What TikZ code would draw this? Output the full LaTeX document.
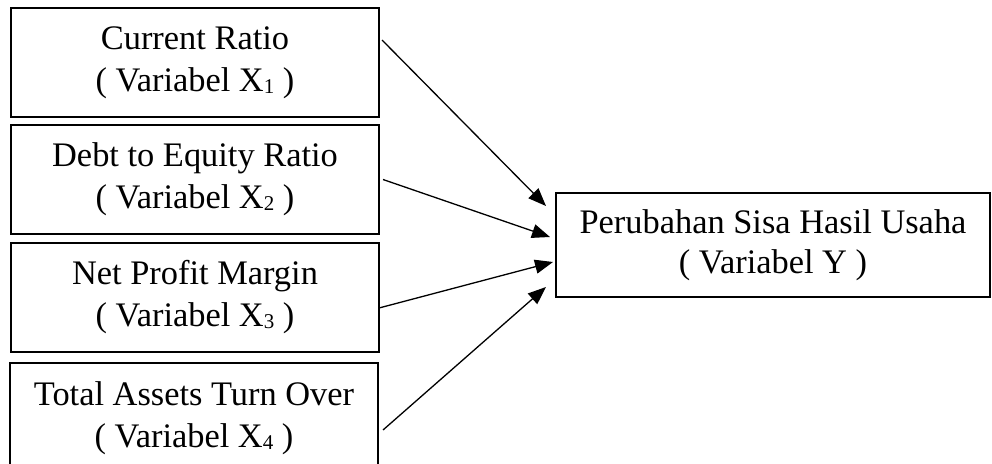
\documentclass[tikz,border=0pt]{standalone}
\usepackage{fontspec}
\setmainfont{Liberation Serif}
\usetikzlibrary{arrows.meta,calc}
\newcommand{\lowsub}[1]{{\fontsize{21}{21}\selectfont\raisebox{-2pt}{#1}}}
\tikzset{
  varbox/.style={draw, line width=2pt, minimum width=368pt, minimum height=109pt,
    inner sep=0pt, align=center, font=\fontsize{34.4}{42}\selectfont},
  ybox/.style={draw, line width=2pt, minimum width=434pt, minimum height=104pt,
    inner sep=0pt, align=center, font=\fontsize{34.4}{40}\selectfont},
  conn/.style={line width=1.3pt, -{Triangle[length=18pt,width=14pt]}}
}
\begin{document}
\begin{tikzpicture}[x=1pt,y=-1pt]
\useasboundingbox (0,0) rectangle (992,463);
\clip (0,0) rectangle (992,463);
\node[varbox] (b1) at (195,62.5) {Current Ratio\\( Variabel X\lowsub{1} )};
\node[varbox] (b2) at (195,179.5) {Debt to Equity Ratio\\( Variabel X\lowsub{2} )};
\node[varbox] (b3) at (195,297.5) {Net Profit Margin\\( Variabel X\lowsub{3} )};
\node[varbox, minimum height=110pt] (b4) at (194,418) {Total Assets Turn Over\\( Variabel X\lowsub{4} )};
\node[ybox] (y) at (773,245) {Perubahan Sisa Hasil Usaha\\( Variabel Y )};
\draw[conn] ($(b1.east)+(2,-22.5)$) -- ($(y.west)+(-9,-39)$);
\draw[conn] ($(b2.east)+(3,0)$) -- ($(y.west)+(-5,-8)$);
\draw[conn] ($(b3.east)+(-1,10.5)$) -- ($(y.west)+(-2,17)$);
\draw[conn] ($(b4.east)+(4,12)$) -- ($(y.west)+(-9,42)$);
\end{tikzpicture}
\end{document}
